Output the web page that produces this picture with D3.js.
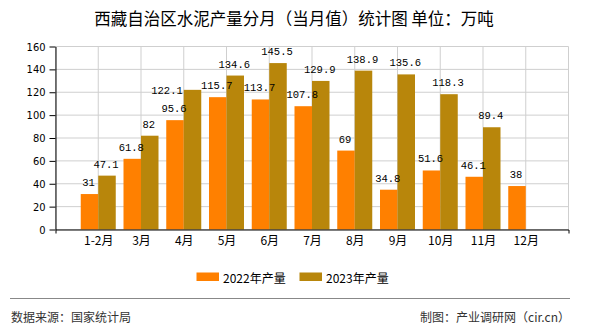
<!DOCTYPE html>
<html><head><meta charset="utf-8">
<script src="https://cdn.jsdelivr.net/npm/d3@7"></script>
<style>
body{margin:0;background:#fff;}
svg{display:block;}
</style></head>
<body>
<svg id="chart" width="590" height="330"></svg>
<script>
const title = "西藏自治区水泥产量分月（当月值）统计图 单位：万吨";
const categories = ["1-2月","3月","4月","5月","6月","7月","8月","9月","10月","11月","12月"];
const values2022 = [31,61.8,95.6,115.7,113.7,107.8,69,34.8,51.6,46.1,38];
const values2023 = [47.1,82,122.1,134.6,145.5,129.9,138.9,135.6,118.3,89.4,null];
const seriesNames = ["2022年产量","2023年产量"];
const seriesColors = ["#FF8000","#B8860B"];
const yTicks = [0,20,40,60,80,100,120,140,160];
const sourceText = "数据来源：国家统计局";
const creditText = "制图：产业调研网（cir.cn）";

const svg = d3.select("#chart");
const cjk = "'Noto Sans CJK SC','Liberation Sans',sans-serif";
const narrow = "'Liberation Sans Narrow','DejaVu Sans Condensed','Liberation Sans',sans-serif";
const mono = "'Liberation Mono','DejaVu Sans Mono',monospace";

const x = d3.scalePoint().domain(categories).range([55.5, 568.5]).padding(1);
const y = d3.scaleLinear().domain([0,160]).range([229.5, 46.5]);
const step = x.step();
const bw = 17.5;

// title
svg.append("text").attr("x",294).attr("y",18).attr("text-anchor","middle")
  .attr("dominant-baseline","central").style("font-family",cjk).style("font-size","16.5px")
  .attr("fill","#000").text(title);

// grid
const grid = svg.append("g");
yTicks.forEach(t=>{
  grid.append("line").attr("x1",55.5).attr("x2",568.5).attr("y1",y(t)).attr("y2",y(t))
    .attr("stroke","#cfcfcf").attr("stroke-width",1);
});
d3.range(0, categories.length + 2).forEach(i=>{
  const xv = x.range()[0] + i*step;
  grid.append("line").attr("x1",xv).attr("x2",xv).attr("y1",y(0)).attr("y2",y(160))
    .attr("stroke","#cfcfcf").attr("stroke-width",1);
});

// bars
const series = [values2022, values2023];
const barG = svg.append("g");
series.forEach((vals, si)=>{
  categories.forEach((c,i)=>{
    const v = vals[i];
    if (v == null) return;
    barG.append("rect")
      .attr("x", x(c) - bw + si*bw).attr("width", bw)
      .attr("y", y(v)).attr("height", y(0)-y(v))
      .attr("fill", seriesColors[si]);
  });
});

// axes
const yAxis = svg.append("g").attr("transform","translate(55.5,0)")
  .call(d3.axisLeft(y).tickValues(yTicks).tickSize(6).tickSizeOuter(0).tickPadding(4));
yAxis.selectAll("text").style("font-family",narrow).style("font-size","11px").attr("fill","#000");
yAxis.selectAll("line,path").attr("stroke","#000");

const xAxis = svg.append("g").attr("transform","translate(0,229.5)")
  .call(d3.axisBottom(x).tickSize(0).tickSizeOuter(4).tickPadding(7));
xAxis.selectAll("text").style("font-family",cjk).style("font-size","12px").attr("fill","#000");
xAxis.selectAll("path").attr("stroke","#000");

// value labels with simple collision avoidance
const labelG = svg.append("g");
const placed = [];
function overlaps(a,b){
  return !(a.x+a.width <= b.x || b.x+b.width <= a.x || a.y+a.height <= b.y || b.y+b.height <= a.y);
}
series.forEach((vals, si)=>{
  categories.forEach((c,i)=>{
    const v = vals[i];
    if (v == null) return;
    const cx = x(c) - bw/2 + si*bw - 1;
    const t = labelG.append("text")
      .attr("x", cx).attr("y", y(v) - 8)
      .attr("text-anchor","middle")
      .style("font-family",mono).style("font-size","10.5px").attr("fill","#000")
      .text(String(v));
    let bb = t.node().getBBox();
    if (placed.some(p=>overlaps(p,bb))) {
      t.attr("x", x(c) - bw + si*bw - 1).attr("y", y(v)+1)
       .attr("text-anchor","end").attr("dominant-baseline","central");
      bb = t.node().getBBox();
    }
    placed.push(bb);
  });
});

// legend
const legend = svg.append("g");
const legendX = [196.5, 299.5];
seriesNames.forEach((n,i)=>{
  legend.append("rect").attr("x",legendX[i]).attr("y",272.5).attr("width",22.5).attr("height",8.5)
    .attr("fill",seriesColors[i]);
  legend.append("text").attr("x",legendX[i]+26.5).attr("y",277).attr("dominant-baseline","central")
    .style("font-family",cjk).style("font-size","12px").attr("fill","#000").text(n);
});

// footer
svg.append("line").attr("x1",10).attr("x2",570).attr("y1",298.5).attr("y2",298.5)
  .attr("stroke","#888").attr("stroke-width",1);
svg.append("text").attr("x",11).attr("y",316.5).attr("dominant-baseline","central")
  .style("font-family",cjk).style("font-size","12px").attr("fill","#333").text(sourceText);
svg.append("text").attr("x",570).attr("y",316.5).attr("text-anchor","end").attr("dominant-baseline","central")
  .style("font-family",cjk).style("font-size","12px").attr("fill","#333").text(creditText);
</script>
</body></html>
